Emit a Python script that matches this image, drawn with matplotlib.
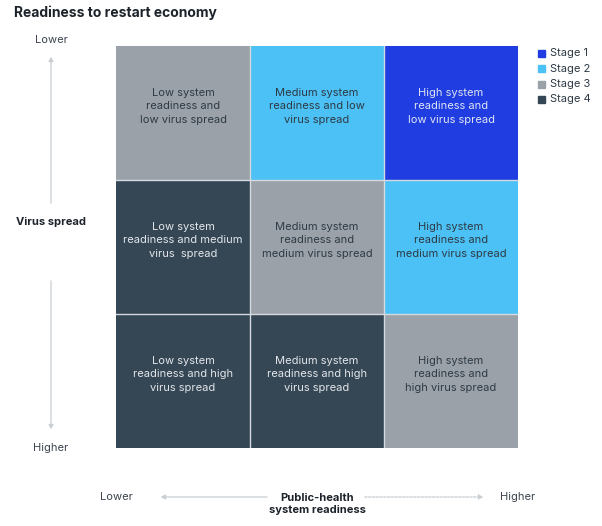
import numpy as np
import matplotlib
matplotlib.use("Agg")
import matplotlib.pyplot as plt
from matplotlib.colors import ListedColormap

plt.rcParams['font.family'] = ['Inter', 'DejaVu Sans']

# grid rows: virus spread lower -> higher, cols: system readiness low -> high
stages = np.array([[3, 2, 1],
                   [4, 3, 2],
                   [4, 4, 3]])
cell_labels = [
    ["Low system\nreadiness and\nlow virus spread",
     "Medium system\nreadiness and low\nvirus spread",
     "High system\nreadiness and\nlow virus spread"],
    ["Low system\nreadiness and medium\nvirus  spread",
     "Medium system\nreadiness and\nmedium virus spread",
     "High system\nreadiness and\nmedium virus spread"],
    ["Low system\nreadiness and high\nvirus spread",
     "Medium system\nreadiness and high\nvirus spread",
     "High system\nreadiness and\nhigh virus spread"],
]
stage_names = ["Stage 1", "Stage 2", "Stage 3", "Stage 4"]
stage_colors = ["#1f3de0", "#4cc1f5", "#9aa1a9", "#354654"]
text_colors = {1: "#dfe4f2", 2: "#2e3a45", 3: "#2e3a45", 4: "#e2e6ea"}

W, H = 602, 526
fig = plt.figure(figsize=(W / 100, H / 100), dpi=100)

def fx(px):
    return px / W

def fy(py):
    return 1 - py / H

ax = fig.add_axes([fx(116), fy(448), fx(518) - fx(116), fy(46) - fy(448)])
cmap = ListedColormap(stage_colors)
ax.imshow(stages, cmap=cmap, vmin=0.5, vmax=4.5, extent=(0, 3, 3, 0),
          interpolation="nearest", aspect="auto")
for k in range(1, 3):
    ax.axvline(k, color="#d5dade", lw=1)
    ax.axhline(k, color="#d5dade", lw=1)
for r in range(3):
    for c in range(3):
        ax.text(c + 0.5, r + 0.45, cell_labels[r][c], ha="center", va="center",
                fontsize=8, linespacing=1.45, color=text_colors[stages[r, c]])
ax.set_xlim(0, 3)
ax.set_ylim(3, 0)
ax.set_xticks([])
ax.set_yticks([])
for s in ax.spines.values():
    s.set_visible(False)

# title
fig.text(fx(14), fy(13), "Readiness to restart economy", fontsize=10,
         fontweight="bold", color="#1d232b", ha="left", va="center")

# legend
for i, (name, col) in enumerate(zip(stage_names, stage_colors)):
    y = 53 + i * 15.5
    fig.patches.append(plt.Rectangle((fx(538), fy(y + 3.5)), fx(7), fy(0) - fy(7),
                                     transform=fig.transFigure, color=col))
    fig.text(fx(550), fy(y), name, fontsize=8, color="#2e3a45",
             ha="left", va="center")

grey = "#c9ced3"
axis_txt = "#3c4550"

# vertical axis
fig.text(fx(51), fy(40), "Lower", fontsize=8, color=axis_txt, ha="center", va="center")
fig.text(fx(51), fy(448), "Higher", fontsize=8, color=axis_txt, ha="center", va="center")
fig.text(fx(51), fy(222), "Virus spread", fontsize=8, fontweight="bold",
         color="#1d232b", ha="center", va="center")
fig.add_artist(matplotlib.patches.FancyArrowPatch(
    (fx(51), fy(206)), (fx(51), fy(54)), transform=fig.transFigure,
    arrowstyle="-|>,head_length=2.5,head_width=1.4", color=grey, lw=0.9))
fig.add_artist(matplotlib.patches.FancyArrowPatch(
    (fx(51), fy(278)), (fx(51), fy(432)), transform=fig.transFigure,
    arrowstyle="-|>,head_length=2.5,head_width=1.4", color=grey, lw=0.9))

# horizontal axis
fig.text(fx(116), fy(497), "Lower", fontsize=8, color=axis_txt, ha="center", va="center")
fig.text(fx(518), fy(497), "Higher", fontsize=8, color=axis_txt, ha="center", va="center")
fig.text(fx(317), fy(504), "Public-health\nsystem readiness", fontsize=8,
         fontweight="bold", color="#1d232b", ha="center", va="center",
         linespacing=1.3)
fig.add_artist(matplotlib.patches.FancyArrowPatch(
    (fx(270), fy(497)), (fx(158), fy(497)), transform=fig.transFigure,
    arrowstyle="-|>,head_length=2.5,head_width=1.4", color=grey, lw=0.9))
fig.add_artist(matplotlib.patches.FancyArrowPatch(
    (fx(362), fy(497)), (fx(486), fy(497)), transform=fig.transFigure,
    arrowstyle="-|>,head_length=2.5,head_width=1.4", color=grey, lw=0.9,
    linestyle=(0, (2, 1))))

fig.savefig("out.png", dpi=100)
